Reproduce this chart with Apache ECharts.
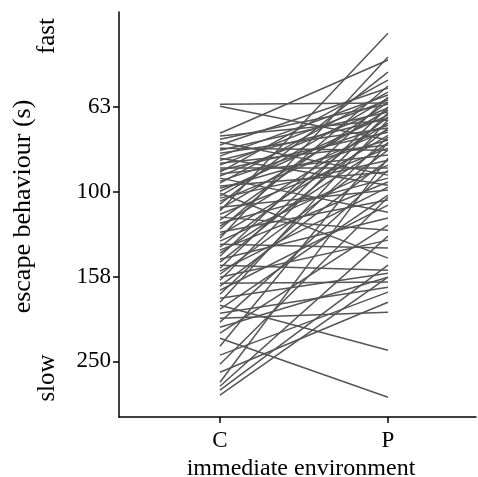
<!DOCTYPE html>
<html>
<head>
<meta charset="utf-8">
<script src="https://cdn.jsdelivr.net/npm/echarts@6/dist/echarts.min.js"></script>
<style>
  html, body { margin: 0; padding: 0; background: #fff; }
  #chart { width: 478px; height: 477px; }
</style>
</head>
<body>
<div id="chart"></div>
<script>
// categories on x
const envCats = ["C", "P"];
// escape time (s) per individual, control vs predator environment
const escapeC = [62.1, 62.8, 72.7, 73.8, 75.1, 76.3, 77.5, 78.8, 79.7, 81.0,
  82.3, 83.2, 84.1, 85.5, 86.4, 87.8, 88.8, 89.7, 90.7, 91.7,
  92.7, 94.2, 95.2, 96.8, 97.9, 99.5, 100.6, 102.2, 103.3, 105.0,
  106.7, 108.5, 109.6, 110.8, 112.7, 114.5, 116.4, 118.3, 120.2, 122.2,
  124.2, 126.2, 128.3, 130.4, 132.6, 134.7, 136.9, 139.2, 141.5, 143.8,
  146.1, 148.5, 151.0, 153.4, 156.0, 158.5, 161.1, 163.7, 166.4, 170.1,
  173.8, 177.6, 181.5, 184.5, 188.5, 192.6, 197.9, 202.2, 207.8, 214.7,
  220.6, 230.4, 241.8, 253.9, 265.2, 280.0, 286.1, 292.3, 300.4];
const escapeP = [61.7, 75.4, 48.9, 67.7, 62.1, 91.2, 56.9, 79.7, 64.8, 70.7,
  59.1, 96.3, 67.0, 77.5, 60.7, 87.8, 72.3, 54.5, 81.8, 63.4,
  111.5, 69.6, 58.2, 89.7, 75.4, 65.9, 143.0, 60.1, 84.1, 71.5,
  52.2, 98.9, 64.1, 42.3, 78.8, 122.9, 61.4, 92.7, 68.8, 56.3,
  104.4, 73.5, 48.1, 86.4, 135.4, 66.6, 94.7, 76.7, 59.8, 115.1,
  70.7, 152.6, 63.1, 97.3, 79.7, 129.7, 65.2, 162.8, 84.1, 107.3,
  74.2, 155.1, 67.7, 235.4, 101.6, 167.3, 191.6, 88.8, 158.5, 119.6,
  303.7, 76.3, 171.9, 102.8, 181.5, 83.2, 126.9, 148.5, 158.5];
const yTicks = [63, 100, 158, 250];

const font = "Liberation Serif";
const chart = echarts.init(document.getElementById("chart"), null, { renderer: "canvas" });

const series = escapeC.map((c, i) => ({
  type: "line",
  data: [[0, c], [1, escapeP[i]]],
  symbol: "none",
  silent: true,
  lineStyle: { color: "#555", width: 1.5 },
}));

chart.setOption({
  animation: false,
  grid: { left: 119, right: 2, top: 12, bottom: 60, outerBoundsMode: "none" },
  xAxis: {
    type: "value",
    min: -0.601,
    max: 1.524,
    splitLine: { show: false },
    axisLine: { show: true, onZero: false, lineStyle: { color: "#000", width: 1.5 } },
    axisTick: { show: true, customValues: [0, 1], length: 6, lineStyle: { color: "#000", width: 1.5 } },
    axisLabel: {
      customValues: [0, 1],
      formatter: (v) => envCats[Math.round(v)],
      fontFamily: font, fontSize: 23, color: "#000", margin: 12,
    },
    name: "immediate environment",
    nameLocation: "middle",
    nameGap: 37,
    nameTextStyle: { fontFamily: font, fontSize: 24, color: "#000", padding: [0, 0, 0, 7] },
  },
  yAxis: {
    type: "log",
    logBase: 10,
    inverse: true,
    min: 37.7,
    max: 338,
    splitLine: { show: false },
    axisLine: { show: true, onZero: false, lineStyle: { color: "#000", width: 1.5 } },
    axisTick: { show: true, customValues: yTicks, length: 6, lineStyle: { color: "#000", width: 1.5 } },
    axisLabel: {
      customValues: yTicks,
      formatter: (v) => String(Math.round(v)),
      fontFamily: font, fontSize: 23, color: "#000", margin: 8,
    },
    name: "escape behaviour (s)",
    nameLocation: "middle",
    nameRotate: 90,
    nameGap: 83,
    nameTextStyle: { fontFamily: font, fontSize: 26, color: "#000", padding: [0, 0, 0, 16] },
  },
  graphic: [
    { type: "text", x: 47, y: 36, rotation: Math.PI / 2,
      style: { text: "fast", font: "25px " + font, fill: "#000", textAlign: "center", textVerticalAlign: "middle" } },
    { type: "text", x: 47, y: 378, rotation: Math.PI / 2,
      style: { text: "slow", font: "25px " + font, fill: "#000", textAlign: "center", textVerticalAlign: "middle" } },
  ],
  series: series,
});
</script>
</body>
</html>
